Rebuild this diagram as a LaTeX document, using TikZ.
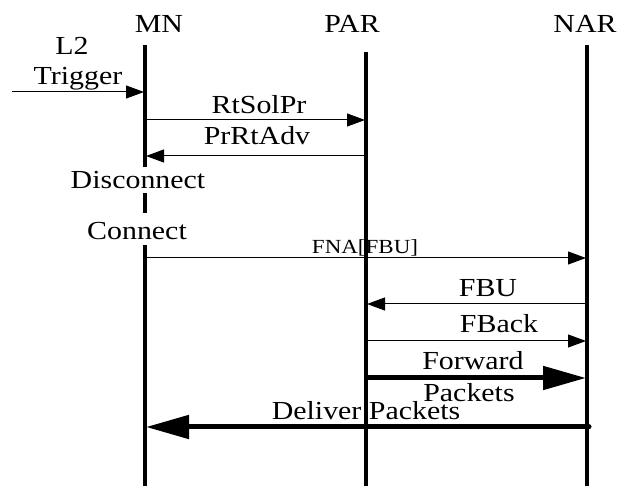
\documentclass[tikz,border=0pt]{standalone}
\usepackage{fontspec}
\setmainfont{Liberation Serif}[FakeStretch=1.15]
\usetikzlibrary{arrows.meta}
\begin{document}
\begin{tikzpicture}[x=1pt,y=-1pt,
  lbl/.style={anchor=base,inner sep=0pt,font=\fontsize{26}{29}\selectfont},
  small/.style={anchor=base,inner sep=0pt,font=\fontsize{20}{23}\selectfont},
  life/.style={line width=3.5pt},
  msg/.style={line width=1pt,-{Triangle[length=18pt,width=13pt]}},
  bigmsg/.style={line width=5pt,line cap=round,-{Triangle[length=43pt,width=23pt]}}]
\useasboundingbox (0,0) rectangle (630,486);
% headers
\node[lbl] (mnT) at (159,33) {MN};
\node[lbl] (parT) at (352,33) {PAR};
\node[lbl] (narT) at (585,33) {NAR};
% lifeline points
\coordinate (mn0) at (145,45);
\coordinate (mn1) at (145,167);
\coordinate (mn2) at (145,193);
\coordinate (mn3) at (145,213);
\coordinate (mn4) at (145,245);
\coordinate (mnB) at (145,486);
\coordinate (par0) at (366,52);
\coordinate (parB) at (366,486);
\coordinate (nar0) at (587,45);
\coordinate (narB) at (587,486);
\draw[life] (mn0) -- (mn1);
\draw[life] (mn2) -- (mn3);
\draw[life] (mn4) -- (mnB);
\draw[life] (par0) -- (parB);
\draw[life] (nar0) -- (narB);
% message end points
\coordinate (trS) at (12,92);   \coordinate (trE) at (144,92);
\coordinate (rsS) at (146,120); \coordinate (rsE) at (365,120);
\coordinate (paS) at (366,156); \coordinate (paE) at (146,156);
\coordinate (fnS) at (146,258); \coordinate (fnE) at (586,258);
\coordinate (fuS) at (587,304); \coordinate (fuE) at (367,304);
\coordinate (fbS) at (367,341); \coordinate (fbE) at (586,341);
\coordinate (fwS) at (367,378); \coordinate (fwE) at (586,378);
\coordinate (dlS) at (589,427); \coordinate (dlE) at (146,427);
\draw[msg] (trS) -- (trE);
\draw[msg] (rsS) -- (rsE);
\draw[msg] (paS) -- (paE);
\draw[msg] (fnS) -- (fnE);
\draw[msg] (fuS) -- (fuE);
\draw[msg] (fbS) -- (fbE);
\draw[bigmsg] (fwS) -- (fwE);
\draw[bigmsg] (dlS) -- (dlE);
% labels
\node[lbl] (l2) at (72,55) {L2};
\node[lbl] (trig) at (78,85) {Trigger};
\node[lbl] (rts) at (259,114) {RtSolPr};
\node[lbl] (pra) at (257,145) {PrRtAdv};
\node[lbl] (disc) at (138,189) {Disconnect};
\node[lbl] (conn) at (137,240) {Connect};
\node[small] (fna) at (365,254) {FNA[FBU]};
\node[lbl] (fbu) at (488,297) {FBU};
\node[lbl] (fback) at (499,333) {FBack};
\node[lbl] (fwd) at (473,370) {Forward};
\node[lbl] (pk) at (469,402) {Packets};
\node[lbl] (dlv) at (366,420) {Deliver Packets};
\end{tikzpicture}
\end{document}
